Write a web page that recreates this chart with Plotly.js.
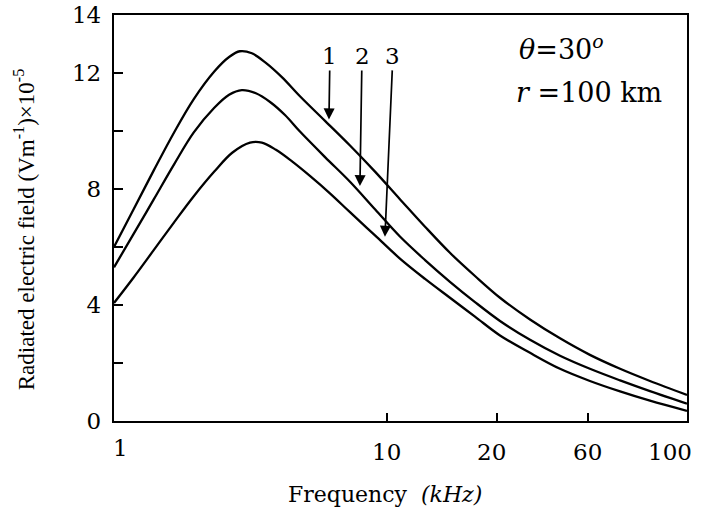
<!DOCTYPE html>
<html><head><meta charset="utf-8">
<script src="https://cdn.plot.ly/plotly-3.0.1.min.js"></script>
<style>html,body{margin:0;padding:0;background:#fff}</style>
</head><body><div id="chart" style="width:705px;height:509px"></div>
<script>
// ---- data (frequency in kHz, field in 1e-5 V/m) ----
const freq1  = [1, 1.18, 1.40, 1.66, 1.96, 2.33, 2.64, 2.89, 3.20, 3.60, 4.13, 4.80, 5.93, 7.32, 9.04, 10.85, 12.71, 14.87, 17.41, 20.74, 29.8, 42.8, 60.6, 70.8, 82.6, 100];
const field1 = [6.0, 7.3, 8.65, 9.95, 11.1, 12.05, 12.55, 12.75, 12.68, 12.35, 11.85, 11.2, 10.35, 9.5, 8.6, 7.65, 6.7, 5.8, 5.0, 4.25, 3.5, 2.85, 2.28, 1.8, 1.38, 0.9];
const freq2  = [1, 1.18, 1.40, 1.66, 1.96, 2.33, 2.64, 2.94, 3.31, 3.73, 4.23, 4.80, 5.93, 7.32, 9.04, 10.85, 12.71, 14.87, 17.41, 20.74, 29.8, 42.8, 60.6, 70.8, 82.6, 100];
const field2 = [5.3, 6.45, 7.65, 8.85, 9.95, 10.8, 11.25, 11.41, 11.3, 11.0, 10.55, 9.98, 9.1, 8.25, 7.3, 6.36, 5.55, 4.8, 4.1, 3.45, 2.8, 2.25, 1.8, 1.4, 1.03, 0.6];
const freq3  = [1, 1.18, 1.40, 1.66, 1.96, 2.33, 2.71, 3.15, 3.48, 3.92, 4.49, 5.22, 6.18, 7.32, 9.04, 10.85, 12.71, 14.87, 17.41, 20.74, 29.8, 42.8, 60.6, 70.8, 82.6, 100];
const field3 = [4.07, 4.95, 5.9, 6.85, 7.75, 8.6, 9.25, 9.6, 9.6, 9.35, 8.95, 8.45, 7.85, 7.2, 6.4, 5.6, 4.9, 4.25, 3.6, 2.95, 2.35, 1.8, 1.38, 1.02, 0.7, 0.35];

const xTickValues = [1, 10, 20, 60, 100];
const xTickLabels = ['1', '10', '20', '60', '100'];
const yTickValues = [0, 2, 4, 6, 8, 10, 12, 14];
const yTickLabels = ['0', '', '4', '', '8', '', '12', '14'];
const curveLabels = ['1', '2', '3'];
// arrow label / tip frequencies and field values
const labelFreq = [6.18, 8.1, 10.38];
const labelField = [12.59, 12.59, 12.59];
const tipFreq = [6.13, 7.96, 9.83];
const tipField = [10.4, 8.1, 6.35];

// ---- frequency scale of the original figure (non-uniform, drawn by hand) ----
const scaleAnchorsF = [1, 10, 20, 60, 100];
const scaleAnchorsU = [0, 0.4764, 0.6684, 0.8272, 1];
function warp(f) {
  const L = Math.log10(f);
  for (let i = 0; i < scaleAnchorsF.length - 1; i++) {
    const a = Math.log10(scaleAnchorsF[i]), b = Math.log10(scaleAnchorsF[i + 1]);
    if (L <= b || i === scaleAnchorsF.length - 2) {
      const t = (L - a) / (b - a);
      return scaleAnchorsU[i] + t * (scaleAnchorsU[i + 1] - scaleAnchorsU[i]);
    }
  }
}

const lineStyle = {color: '#000', width: 2.3, shape: 'spline', smoothing: 1};
const traces = [[freq1, field1], [freq2, field2], [freq3, field3]].map(([f, v]) => ({
  type: 'scatter', mode: 'lines', x: f.map(warp), y: v, line: lineStyle,
  hoverinfo: 'skip', showlegend: false
}));

const serif = 'DejaVu Serif, serif';
const annotations = [];
const labelShift = {'1': [6, -27], '10': [0, -31], '20': [-5, -31], '60': [0, -31], '100': [-17, -31]};
xTickValues.forEach((v, i) => {
  const s = labelShift[xTickLabels[i]];
  annotations.push({x: warp(v), y: 0, xref: 'x', yref: 'y', text: xTickLabels[i], showarrow: false,
    xanchor: 'center', yanchor: 'middle', xshift: s[0], yshift: s[1],
    font: {family: serif, size: 23, color: '#000'}});
});
curveLabels.forEach((t, i) => {
  annotations.push({x: warp(tipFreq[i]), y: tipField[i], xref: 'x', yref: 'y',
    ax: warp(labelFreq[i]), ay: labelField[i], axref: 'x', ayref: 'y',
    text: t, showarrow: true, arrowhead: 2, arrowsize: 1.3, arrowwidth: 1.7, arrowcolor: '#000',
    standoff: 0, startstandoff: 0,
    font: {family: serif, size: 23, color: '#000'}});
});
annotations.push({x: 0.703, y: 0.921, xref: 'paper', yref: 'paper', xanchor: 'left', yanchor: 'middle',
  text: '<i>θ</i>=30<sup><i>o</i></sup>', showarrow: false, font: {family: serif, size: 27, color: '#000'}});
annotations.push({x: 0.698, y: 0.808, xref: 'paper', yref: 'paper', xanchor: 'left', yanchor: 'middle',
  text: '<i>r</i> =100 km', showarrow: false, font: {family: serif, size: 27, color: '#000'}});
// axis titles
annotations.push({x: 0.473, y: -0.182, xref: 'paper', yref: 'paper', xanchor: 'center', yanchor: 'middle',
  text: 'Frequency  <i>(kHz)</i>', showarrow: false, font: {family: serif, size: 22, color: '#000'}});
annotations.push({x: -0.157, y: 0.470, xref: 'paper', yref: 'paper', xanchor: 'center', yanchor: 'middle',
  textangle: -90, text: 'Radiated electric field (Vm<sup>-1</sup>)×10<sup>-5</sup>', showarrow: false,
  font: {family: 'Liberation Serif, serif', size: 23, color: '#000'}});

const layout = {
  width: 705, height: 509,
  margin: {l: 114, r: 18, t: 15, b: 88},
  paper_bgcolor: '#fff', plot_bgcolor: '#fff',
  xaxis: {
    range: [0, 1], showgrid: false, zeroline: false,
    showline: true, linecolor: '#000', linewidth: 2.2, mirror: true,
    tickvals: xTickValues.map(warp), ticks: 'inside', ticklen: 8, tickwidth: 1.8, tickcolor: '#000',
    showticklabels: false
  },
  yaxis: {
    range: [0, 14], showgrid: false, zeroline: false,
    showline: true, linecolor: '#000', linewidth: 2.2, mirror: true,
    tickvals: yTickValues, ticktext: yTickLabels, ticks: 'inside', ticklen: 9, tickwidth: 1.8, tickcolor: '#000',
    tickfont: {family: serif, size: 23, color: '#000'}, ticklabelstandoff: 6
  },
  annotations: annotations
};

Plotly.newPlot('chart', traces, layout, {displayModeBar: false, staticPlot: true});
</script>
</body></html>
